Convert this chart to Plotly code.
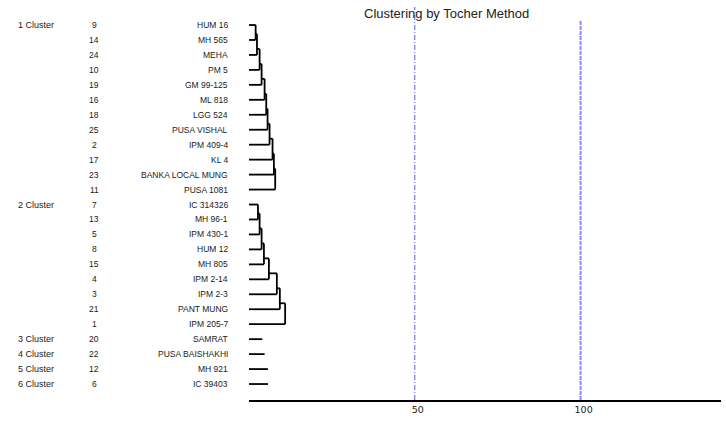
import plotly.graph_objects as go

# ---------------- data ----------------
cluster_labels = ["1 Cluster", "2 Cluster", "3 Cluster", "4 Cluster", "5 Cluster", "6 Cluster"]
cluster1_ids = [9, 14, 24, 10, 19, 16, 18, 25, 2, 17, 23, 11]
cluster1_names = ["HUM 16", "MH 565", "MEHA", "PM 5", "GM 99-125", "ML 818", "LGG 524",
                  "PUSA VISHAL", "IPM 409-4", "KL 4", "BANKA LOCAL MUNG", "PUSA 1081"]
cluster1_heights = [2.0, 2.4, 3.2, 3.8, 4.7, 5.2, 5.6, 6.2, 7.1, 7.5, 7.9]
cluster2_ids = [7, 13, 5, 8, 15, 4, 3, 21, 1]
cluster2_names = ["IC 314326", "MH 96-1", "IPM 430-1", "HUM 12", "MH 805", "IPM 2-14",
                  "IPM 2-3", "PANT MUNG", "IPM 205-7"]
cluster2_heights = [2.7, 3.2, 3.8, 4.5, 6.0, 8.4, 9.3, 10.9]
single_ids = [20, 22, 12, 6]
single_names = ["SAMRAT", "PUSA BAISHAKHI", "MH 921", "IC 39403"]
single_heights = [4.0, 4.7, 5.7, 5.7]
x_ticks = [50, 100]
title_text = "Clustering by Tocher Method"

# ---------------- layout geometry ----------------
W, H = 726, 431
ROW0_PX, ROW_STEP = 25.0, 14.96
AXIS_PX = 400.0
X0_PX, X_END_PX, PX_PER_UNIT = 249.0, 720.5, 3.316
x_range = [0, (X_END_PX - X0_PX) / PX_PER_UNIT]
y_top = -ROW0_PX / ROW_STEP
y_bot = (AXIS_PX - ROW0_PX) / ROW_STEP

lx, ly = [], []


def seg(xa, ya, xb, yb):
    lx.extend([xa, xb, None])
    ly.extend([ya, yb, None])


def chain(start_row, heights, n):
    rows = [start_row + i for i in range(n)]
    # leaf lines
    seg(0, rows[0], heights[0], rows[0])
    for k in range(1, n):
        seg(0, rows[k], heights[k - 1], rows[k])
    # first join
    seg(heights[0], rows[0], heights[0], rows[1])
    node = rows[1] - 0.4
    for k in range(2, n):
        seg(heights[k - 2], node, heights[k - 1], node)
        seg(heights[k - 1], node, heights[k - 1], rows[k])
        node = rows[k] - 0.4


row = 0
chain(row, cluster1_heights, len(cluster1_ids))
c1_start = row
row += len(cluster1_ids)
c2_start = row
chain(row, cluster2_heights, len(cluster2_ids))
row += len(cluster2_ids)
single_start = row
for i, h in enumerate(single_heights):
    seg(0, row + i, h, row + i)

fig = go.Figure()
fig.add_trace(go.Scatter(x=lx, y=ly, mode="lines",
                         line=dict(color="black", width=1.8),
                         hoverinfo="skip", showlegend=False))

font_lbl = dict(family="Arial, Liberation Sans, sans-serif", size=8.5, color="#1a1a1a")
ann = []


def add_row(r, num, name):
    ann.append(dict(x=94 / W, y=r, xref="paper", yref="y", text=str(num), showarrow=False,
                    xanchor="center", yanchor="middle", font=font_lbl))
    ann.append(dict(x=229.5 / W, y=r, xref="paper", yref="y", text=name, showarrow=False,
                    xanchor="right", yanchor="middle", font=font_lbl))


all_ids = cluster1_ids + cluster2_ids + single_ids
all_names = cluster1_names + cluster2_names + single_names
for r, (num, name) in enumerate(zip(all_ids, all_names)):
    add_row(r, num, name)

cluster_rows = [c1_start, c2_start] + [single_start + i for i in range(len(single_ids))]
for lab, r in zip(cluster_labels, cluster_rows):
    ann.append(dict(x=16 / W, y=r, xref="paper", yref="y", text=lab, showarrow=False,
                    xanchor="left", yanchor="middle",
                    font=dict(family="Arial, Liberation Sans, sans-serif", size=9, color="#1a1a1a")))

ann.append(dict(x=446 / W, y=1 - 14 / H, xref="paper", yref="paper", text=title_text,
                showarrow=False, xanchor="center", yanchor="middle",
                font=dict(family="Arial, Liberation Sans, sans-serif", size=13, color="#222222")))

shapes = [
    dict(type="line", xref="x", yref="paper", x0=x_ticks[0], x1=x_ticks[0],
         y0=1 - AXIS_PX / H, y1=1 - 7 / H,
         line=dict(color="#5a5af0", width=1, dash="5px,2px,1px,2px")),
    dict(type="line", xref="x", yref="paper", x0=x_ticks[1], x1=x_ticks[1],
         y0=1 - AXIS_PX / H, y1=1 - 20 / H,
         line=dict(color="#8a8aff", width=2, dash="4px,1px")),
]

fig.update_layout(
    width=W, height=H,
    margin=dict(l=0, r=0, t=0, b=0),
    paper_bgcolor="white", plot_bgcolor="white",
    showlegend=False,
    annotations=ann,
    shapes=shapes,
    xaxis=dict(domain=[X0_PX / W, X_END_PX / W], range=x_range,
               showline=True, linecolor="black", linewidth=2,
               tickvals=x_ticks, ticktext=[str(t) for t in x_ticks],
               ticks="", showgrid=False, zeroline=False,
               ticklabelshift=3,
               tickfont=dict(family="Tahoma, DejaVu Sans, sans-serif", size=9.5, color="#222222")),
    yaxis=dict(domain=[1 - AXIS_PX / H, 1], range=[y_bot, y_top],
               visible=False, showgrid=False, zeroline=False),
)

fig.write_html("out.html")
